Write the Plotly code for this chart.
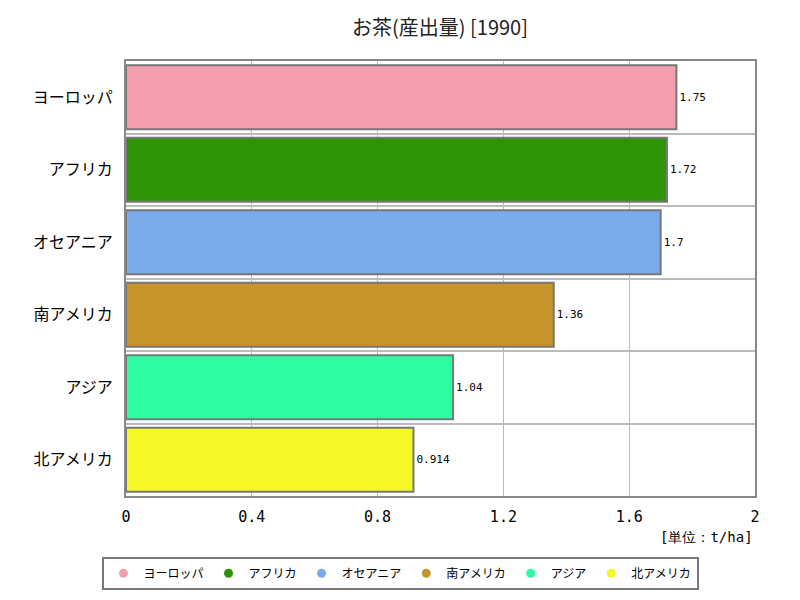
import plotly.graph_objects as go

categories = ["ヨーロッパ", "アフリカ", "オセアニア", "南アメリカ", "アジア", "北アメリカ"]
values = [1.75, 1.72, 1.70, 1.36, 1.04, 0.914]
labels = ["1.75", "1.72", "1.7", "1.36", "1.04", "0.914"]
colors = ["#f49fb0", "#2e9405", "#7aaae8", "#c8952d", "#2efca3", "#f4f927"]
x_ticks = [0, 0.4, 0.8, 1.2, 1.6, 2]
x_ticktext = ["0", "0.4", "0.8", "1.2", "1.6", "2"]

font_jp = "Noto Sans CJK JP"

fig = go.Figure()
for c, v, t, col in zip(categories, values, labels, colors):
    fig.add_trace(go.Bar(
        x=[v], y=[c], orientation="h", name=c, showlegend=False,
        marker=dict(color=col, line=dict(color="#777777", width=2)),
        text=[t], textposition="outside", cliponaxis=False,
        textfont=dict(size=11, color="#000000", family="DejaVu Sans Mono"),
        width=0.88,
    ))
for c, col in zip(categories, colors):
    fig.add_trace(go.Scatter(
        x=[None], y=[None], mode="markers", name=c, showlegend=True,
        marker=dict(color=col, size=9, symbol="circle"),
    ))

fig.update_layout(
    width=800, height=600,
    margin=dict(l=126, r=45, t=61, b=104, autoexpand=False),
    paper_bgcolor="white", plot_bgcolor="white",
    barmode="overlay",
    title=dict(text="お茶(産出量) [1990]", x=0.55, xanchor="center", y=0.953, yanchor="middle",
               font=dict(size=20, family=font_jp, color="#222222")),
    font=dict(family=font_jp, color="#000000"),
    showlegend=True,
    legend=dict(orientation="h", xref="container", yref="container",
                x=0.5, xanchor="center", y=0.072, yanchor="top",
                bordercolor="#777777", borderwidth=2, bgcolor="white",
                font=dict(size=12, family=font_jp), traceorder="normal",
                itemwidth=30, tracegroupgap=0),
    xaxis=dict(range=[0, 2], tickvals=x_ticks, ticktext=x_ticktext,
               showgrid=True, gridcolor="#bbbbbb", gridwidth=1,
               zeroline=False, showline=True, linecolor="#888888", linewidth=2, mirror=True,
               ticks="", tickfont=dict(size=15, family="DejaVu Sans Mono"), ticklabelstandoff=6),
    yaxis=dict(categoryorder="array", categoryarray=categories[::-1], tickson="boundaries",
               showgrid=True, gridcolor="#bbbbbb", gridwidth=2,
               showline=True, linecolor="#888888", linewidth=2, mirror=True,
               ticks="", tickfont=dict(size=16, family=font_jp), ticklabelstandoff=8),
)

fig.add_annotation(text="[単位：t/ha]", xref="paper", yref="paper", x=1.0, y=-0.094,
                   xanchor="right", yanchor="middle", showarrow=False,
                   font=dict(size=14, family="DejaVu Sans Mono", color="#000000"))

fig.write_html("out.html")
